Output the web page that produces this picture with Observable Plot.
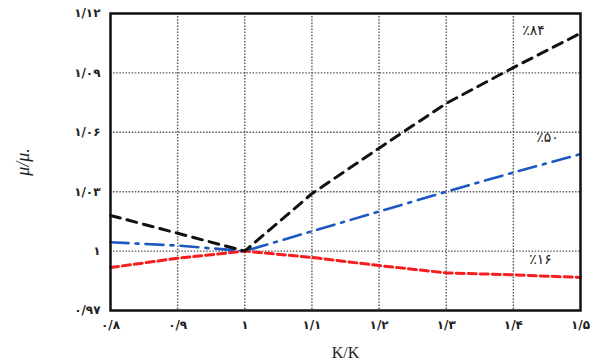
<!DOCTYPE html>
<html>
<head>
<meta charset="utf-8">
<script src="https://cdn.jsdelivr.net/npm/d3@7"></script>
<script src="https://cdn.jsdelivr.net/npm/@observablehq/plot@0.6"></script>
<style>
  body { margin: 0; background: #fff; }
  #chart svg { display: block; }
  #chart g[aria-label="x-axis label"] text { font-family: "Liberation Serif", serif; font-size: 16px; font-weight: normal; }
  #chart g[aria-label="y-axis label"] text { font-family: "Liberation Serif", serif; font-style: italic; font-size: 18px; font-weight: normal; }
</style>
</head>
<body>
<div id="chart"></div>
<script>
// Permeability ratio on the horizontal axis
const kRatio = [0.8, 0.9, 1.0, 1.1, 1.2, 1.3, 1.4, 1.5];
// Viscosity ratio for the three percentiles
const mu84 = [1.018, 1.009, 1.000, 1.029, 1.052, 1.0746, 1.0927, 1.110];
const mu50 = [1.0045, 1.0028, 1.000, 1.010, 1.020, 1.030, 1.0397, 1.049];
const mu16 = [0.9917, 0.9964, 1.000, 0.9968, 0.9927, 0.989, 0.988, 0.9867];

const seriesNames = ["٪۸۴", "٪۵۰", "٪۱۶"];

const xTicks = [0.8, 0.9, 1.0, 1.1, 1.2, 1.3, 1.4, 1.5];
const xTickLabels = ["۰/۸", "۰/۹", "۱", "۱/۱", "۱/۲", "۱/۳", "۱/۴", "۱/۵"];
const yTicks = [0.97, 1.00, 1.03, 1.06, 1.09, 1.12];
const yTickLabels = ["۰/۹۷", "۱", "۱/۰۳", "۱/۰۶", "۱/۰۹", "۱/۱۲"];

const toRows = (ys) => kRatio.map((k, i) => ({k, mu: ys[i]}));
const rows84 = toRows(mu84), rows50 = toRows(mu50), rows16 = toRows(mu16);
const last = (rows) => [rows[rows.length - 1]];

const tickFont = {fontFamily: "DejaVu Sans", fontSize: 12, fontWeight: "bold", fill: "#222"};
const nameFont = {fontFamily: "DejaVu Sans", fontSize: 14, fill: "#222"};
const gridStyle = {stroke: "#444", strokeOpacity: 0.9, strokeWidth: 1.4, strokeDasharray: "1.5,1.6"};

const chart = Plot.plot({
  width: 593,
  height: 362,
  marginLeft: 110,
  marginRight: 13,
  marginTop: 13,
  marginBottom: 52,
  style: {background: "#fff", color: "#222"},
  x: {domain: [0.8, 1.5]},
  y: {domain: [0.97, 1.12]},
  marks: [
    Plot.gridX(xTicks.slice(1, -1), gridStyle),
    Plot.gridY(yTicks.slice(1, -1), gridStyle),
    Plot.axisX(xTicks, {
      tickSize: 0, tickPadding: 10,
      tickFormat: (d) => xTickLabels[xTicks.indexOf(d)],
      label: "K/K", labelAnchor: "center", labelArrow: "none", labelOffset: 47,
      ...tickFont
    }),
    Plot.axisY(yTicks, {
      tickSize: 0, tickPadding: 10,
      tickFormat: (d) => yTickLabels[yTicks.indexOf(d)],
      label: "μ/μ.", labelAnchor: "center", labelArrow: "none", labelOffset: 94,
      ...tickFont
    }),
    Plot.line(rows16, {x: "k", y: "mu", stroke: "#f51d1d", strokeWidth: 3, strokeDasharray: "8,4"}),
    Plot.line(rows50, {x: "k", y: "mu", stroke: "#1d58c0", strokeWidth: 2.6, strokeDasharray: "18,7,3,7"}),
    Plot.line(rows84, {x: "k", y: "mu", stroke: "#111", strokeWidth: 3, strokeDasharray: "10,7"}),
    Plot.frame({stroke: "#111", strokeWidth: 2.5}),
    Plot.text(last(rows84), {x: "k", y: "mu", text: () => seriesNames[0], dx: -47, dy: -3, ...nameFont}),
    Plot.text(last(rows50), {x: "k", y: "mu", text: () => seriesNames[1], dx: -33, dy: -17, ...nameFont}),
    Plot.text(last(rows16), {x: "k", y: "mu", text: () => seriesNames[2], dx: -40, dy: -18, ...nameFont})
  ]
});
document.getElementById("chart").appendChild(chart);
</script>
</body>
</html>
